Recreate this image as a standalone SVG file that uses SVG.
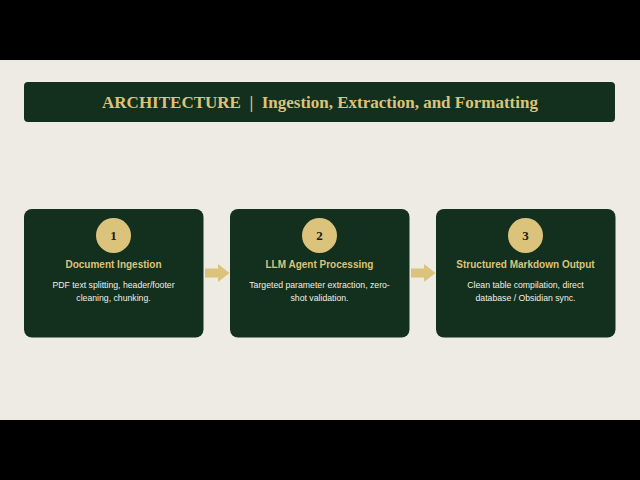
<svg xmlns="http://www.w3.org/2000/svg" width="640" height="480" viewBox="0 0 640 480">
<defs>
<style>
.card{fill:#12301d;}
.badge{fill:#dcc37c;}
.num{font-family:"Liberation Serif","DejaVu Serif",serif;font-weight:bold;font-size:13px;fill:#1a1a14;text-anchor:middle;}
.ttl{font-family:"Liberation Sans","Open Sans",sans-serif;font-weight:bold;font-size:10px;fill:#dcc37c;text-anchor:middle;}
.desc{font-family:"Liberation Sans","Open Sans",sans-serif;font-size:8.7px;fill:#f2efe6;text-anchor:middle;}
.arrow{fill:#dcc37c;}
</style>
</defs>
<rect x="0" y="0" width="640" height="480" fill="#000"/>
<rect x="0" y="60" width="640" height="360" fill="#eeebe4"/>
<g id="title">
<rect x="24" y="82" width="591" height="40" rx="4" fill="#12301d"/>
<text x="320" y="108" xml:space="preserve" text-anchor="middle" font-family="Liberation Serif, DejaVu Serif, serif" font-weight="bold" font-size="17" fill="#dcc37c">ARCHITECTURE  |  Ingestion, Extraction, and Formatting</text>
</g>
<g id="node1">
<rect class="card" x="24" y="209" width="179.5" height="128.5" rx="8"/>
<circle class="badge" cx="113.5" cy="235.5" r="17.5"/>
<text class="num" x="113.5" y="240">1</text>
<text class="ttl" x="113.5" y="268">Document Ingestion</text>
<text class="desc" x="113.5" y="288">PDF text splitting, header/footer</text>
<text class="desc" x="113.5" y="301">cleaning, chunking.</text>
</g>
<g id="node2">
<rect class="card" x="230" y="209" width="179.5" height="128.5" rx="8"/>
<circle class="badge" cx="319.5" cy="235.5" r="17.5"/>
<text class="num" x="319.5" y="240">2</text>
<text class="ttl" x="319.5" y="268">LLM Agent Processing</text>
<text class="desc" x="319.5" y="288">Targeted parameter extraction, zero-</text>
<text class="desc" x="319.5" y="301">shot validation.</text>
</g>
<g id="node3">
<rect class="card" x="436" y="209" width="179.5" height="128.5" rx="8"/>
<circle class="badge" cx="525.5" cy="235.5" r="17.5"/>
<text class="num" x="525.5" y="240">3</text>
<text class="ttl" x="525.5" y="268">Structured Markdown Output</text>
<text class="desc" x="525.5" y="288">Clean table compilation, direct</text>
<text class="desc" x="525.5" y="301">database / Obsidian sync.</text>
</g>
<g id="connectors">
<polygon class="arrow" points="205,268.5 218,268.5 218,264 229.5,273 218,282 218,277.5 205,277.5"/>
<polygon class="arrow" points="411,268.5 424,268.5 424,264 435.5,273 424,282 424,277.5 411,277.5"/>
</g>
</svg>
